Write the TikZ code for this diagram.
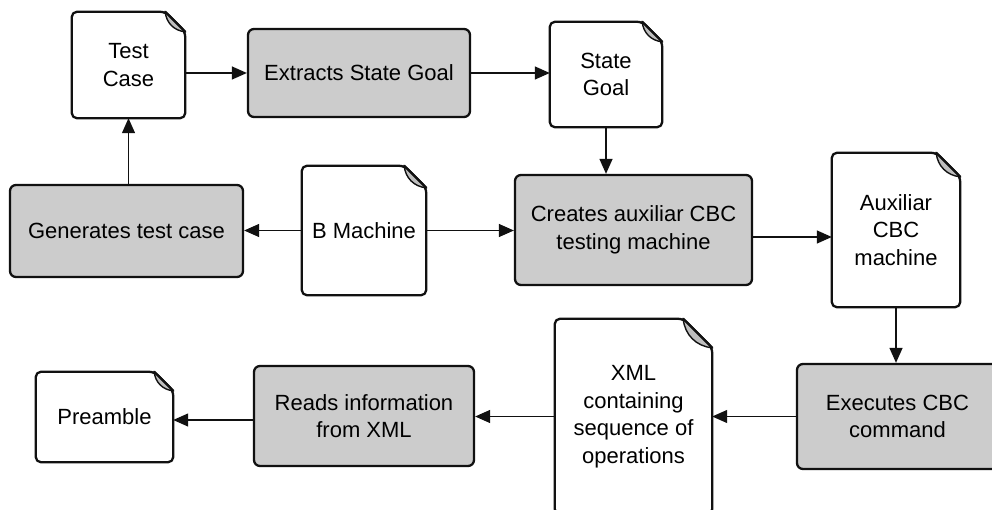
\documentclass[tikz,border=0pt]{standalone}
\usepackage{fontspec}
\setmainfont{Liberation Sans}
\usetikzlibrary{arrows.meta,calc}
\definecolor{procfill}{RGB}{204,204,204}
\definecolor{foldfill}{RGB}{190,190,190}
\definecolor{edgecol}{RGB}{17,17,17}
\tikzset{
  lbl/.style={align=center,font=\fontsize{22}{27.5}\selectfont,inner sep=0pt},
  proc/.style={lbl,draw=edgecol,line width=2.3pt,fill=procfill,rounded corners=6pt},
  docnode/.style={lbl},
  docline/.style={draw=edgecol,line width=2.3pt,fill=white,rounded corners=5pt,line join=round},
  foldline/.style={draw=edgecol,line width=1.4pt,fill=foldfill,line join=round},
  arr/.style={draw=edgecol,line width=1.3pt,-{Triangle[length=15pt,width=13pt]}}
}
\newcommand\docshape[2]{%
  \path[docline] ([xshift=-#2]#1.north east) -- (#1.north west) -- (#1.south west) -- (#1.south east) -- ([yshift=-#2]#1.north east) -- cycle;
  \path[foldline] ([xshift=-#2]#1.north east) .. controls ([xshift=-0.95*#2,yshift=-0.55*#2]#1.north east) and ([xshift=-0.55*#2,yshift=-0.95*#2]#1.north east) .. ([yshift=-#2]#1.north east) -- cycle;
  \path[draw=edgecol,line width=2.3pt,line cap=round] ([xshift=-#2]#1.north east) -- ([yshift=-#2]#1.north east);
}
\begin{document}
\begin{tikzpicture}[x=1pt,y=-1pt]
\useasboundingbox (0,0) rectangle (992,510);
% process boxes
\node[proc,minimum width=222pt,minimum height=88pt] (ext) at (359,73) {Extracts State Goal};
\node[proc,minimum width=233pt,minimum height=92pt] (gen) at (126.5,231) {Generates test case};
\node[proc,minimum width=237pt,minimum height=110pt] (cre) at (633.5,230) {Creates auxiliar CBC\\testing machine};
\node[proc,minimum width=201pt,minimum height=105pt] (exe) at (897.5,416.5) {Executes CBC\\command};
\node[proc,minimum width=220pt,minimum height=100pt] (rea) at (364,416) {Reads information\\from XML};
% document shapes
\node[docnode,minimum width=113pt,minimum height=106pt] (tc) at (128.5,65) {};
\node[docnode,minimum width=112pt,minimum height=105pt] (sg) at (606,74.5) {};
\node[docnode,minimum width=124pt,minimum height=129pt] (bm) at (364,230.5) {};
\node[docnode,minimum width=128pt,minimum height=154pt] (aux) at (896,230) {};
\node[docnode,minimum width=157pt,minimum height=195pt] (xml) at (633.5,416.5) {};
\node[docnode,minimum width=137pt,minimum height=90pt] (pre) at (104.5,417) {};
\docshape{tc}{20pt}
\docshape{sg}{20pt}
\docshape{bm}{22pt}
\docshape{aux}{24pt}
\docshape{xml}{29pt}
\docshape{pre}{19pt}
\node[lbl] at (tc) {Test\\Case};
\node[lbl] at (sg) {State\\Goal};
\node[lbl] at (bm) {B Machine};
\node[lbl] at (aux) {Auxiliar\\CBC\\machine};
\node[lbl] at (xml) {XML\\containing\\sequence of\\operations};
\node[lbl] at (pre) {Preamble};
% connectors
\draw[arr] (tc.east |- ext.west) -- (ext.west);
\draw[arr] (ext.east) -- (ext.east -| sg.west);
\draw[arr] (sg.south) -- (sg.south |- cre.north);
\draw[arr] (tc.south |- gen.north) -- (tc.south);
\draw[arr] (bm.west) -- (bm.west -| gen.east);
\draw[arr] (bm.east) -- (bm.east -| cre.west);
\draw[arr] ([yshift=-7pt]cre.east) -- ([yshift=-7pt]cre.east -| aux.west);
\draw[arr] (aux.south) -- (aux.south |- exe.north);
\draw[arr] (exe.west) -- (exe.west -| xml.east);
\draw[arr] (xml.west) -- (xml.west -| rea.east);
\draw[arr] ([yshift=-4pt]rea.west) -- ([yshift=-4pt]rea.west -| pre.east);
\end{tikzpicture}
\end{document}
